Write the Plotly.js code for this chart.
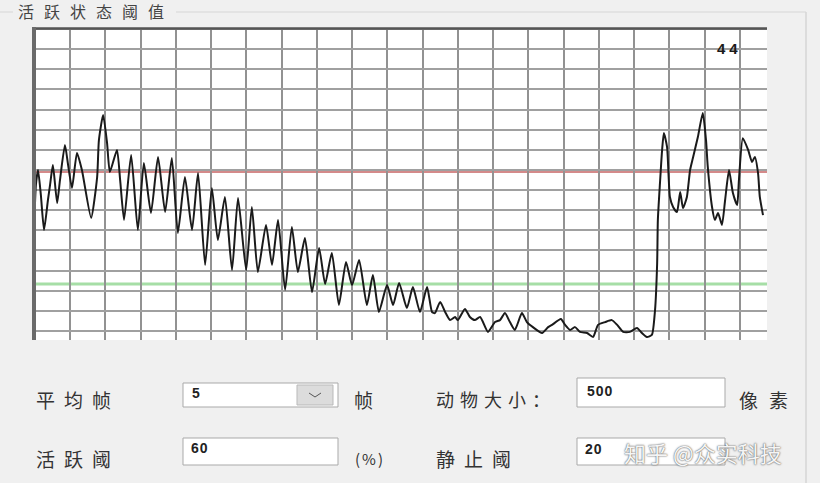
<!DOCTYPE html>
<html>
<head>
<meta charset="utf-8">
<script src="https://cdn.plot.ly/plotly-3.0.1.min.js"></script>
<style>
html,body{margin:0;padding:0;background:#f0f0f0;}
#chart{width:820px;height:483px;}
</style>
</head>
<body>
<div id="chart"></div>
<script>
// Frame index of each sample
const frames = [
  0.6,1.1,1.7,2.5,3.4,4.5,5.1,5.9,7.1,7.9,
  9.3,10.2,11.3,12.7,14.1,16.7,18.4,18.9,20.1,21.2,
  22.0,24.0,24.9,26.0,28.0,29.9,31.6,33.6,35.6,37.6,
  39.5,41.2,43.2,45.2,46.9,48.9,50.8,52.5,54.5,56.5,
  58.2,60.5,62.1,63.8,66.1,67.8,69.5,71.5,73.4,75.1,
  77.1,79.1,81.1,82.8,84.7,86.7,88.7,90.4,92.4,94.6,
  96.3,98.0,100.3,102.0,103.7,105.9,107.6,109.6,111.6,113.0,
  113.8,115.3,116.7,118.1,119.5,120.3,122.3,123.7,125.1,126.6,
  128.8,130.8,132.2,133.6,135.0,136.4,138.4,139.8,141.5,144.1,
  145.8,146.9,149.4,150.6,152.0,153.4,154.8,156.8,158.5,159.9,
  161.9,163.8,165.3,167.0,168.9,170.9,172.3,173.7,175.1,176.0,
  176.6,176.8,177.4,178.0,178.5,179.4,180.2,181.1,182.2,183.1,
  183.9,185.0,185.9,186.7,188.1,189.5,190.4,190.9,192.1,192.9,
  193.8,194.9,195.8,196.9,198.0,199.2,199.7,200.8,202.3,203.4,
  204.2,205.1,205.6,206.5
];
// Activity level (%) of each sample
const activity = [
  40.0,55.4,60.7,51.8,39.3,50.0,55.4,62.5,48.9,57.1,
  69.6,62.5,54.3,66.8,60.7,43.6,58.2,71.4,80.4,70.4,
  60.0,67.9,57.1,42.9,66.1,39.3,63.2,45.4,65.4,45.7,
  65.0,38.2,58.2,39.3,59.6,26.8,54.3,35.7,51.1,25.0,
  50.7,25.0,47.5,24.3,41.1,26.8,42.9,17.9,40.4,24.3,
  36.4,17.1,32.9,20.0,31.1,12.5,27.9,19.6,28.6,12.5,
  23.2,10.0,19.6,12.5,20.4,11.4,18.9,10.0,18.9,10.0,
  9.6,13.6,10.0,7.1,8.2,7.1,11.1,8.2,7.1,8.2,
  2.9,6.4,7.1,9.6,6.4,3.6,9.6,6.4,4.6,2.5,
  4.6,5.4,7.5,5.4,3.6,4.6,2.9,2.5,1.1,5.4,
  6.4,7.1,5.4,2.9,2.9,4.3,2.5,1.1,1.8,10.7,
  27.5,42.9,56.1,67.9,73.9,68.9,51.1,47.5,45.7,52.9,
  47.1,51.1,60.7,65.0,72.5,81.1,71.4,61.8,47.5,42.9,
  45.4,41.1,50.0,60.7,52.5,48.2,57.1,72.1,67.9,63.6,
  65.4,59.6,51.1,44.6
];
const activeThreshold = 60;   // 活跃阈 (%)
const stillThreshold = 20;    // 静止阈 (%)
const currentValue = "44";
const groupTitle = "活跃状态阈值";
const formLabels = ["平均帧", "帧", "动物大小：", "像素", "活跃阈", "(%)", "静止阈"];
const formValues = ["5", "500", "60", "20"];
const watermark = "知乎 @众实科技";

// pixel -> paper helpers (plot area: x 33..767, y 28..340)
const L = 33, R = 767, T = 28, B = 340;
const px = x => (x - L) / (R - L);
const py = y => (B - y) / (B - T);

const cjk = '"Noto Sans CJK SC", "Noto Sans", sans-serif';
const num = 'Liberation Sans, Arial, sans-serif';

function lbl(text, x, y, size, color, spacing, extra) {
  const t = spacing ? '<span style="letter-spacing:' + spacing + 'px">' + text + '</span>' : text;
  return Object.assign({
    text: t, xref: 'paper', yref: 'paper', x: px(x), y: py(y),
    xanchor: 'left', yanchor: 'middle', showarrow: false,
    font: {family: cjk, size: size, color: color || '#333'}
  }, extra || {});
}

function rectPx(x0, y0, x1, y1, fill, line) {
  return {type: 'rect', xref: 'paper', yref: 'paper', layer: 'above',
    x0: px(x0), x1: px(x1), y0: py(y1), y1: py(y0),
    fillcolor: fill, line: {color: line, width: 1}};
}
function linePx(x0, y0, x1, y1, color, width) {
  return {type: 'line', xref: 'paper', yref: 'paper', layer: 'above',
    x0: px(x0), x1: px(x1), y0: py(y0), y1: py(y1),
    line: {color: color, width: width}};
}

const trace = {
  x: frames, y: activity, type: 'scatter', mode: 'lines',
  line: {color: '#1a1a1a', width: 2, shape: 'spline', smoothing: 0.55},
  hoverinfo: 'skip', showlegend: false
};

const shapes = [
  // threshold lines
  {type: 'line', xref: 'paper', yref: 'y', x0: 0, x1: 1, y0: activeThreshold, y1: activeThreshold,
   layer: 'between', line: {color: '#d48a8a', width: 2}},
  {type: 'line', xref: 'paper', yref: 'y', x0: 0, x1: 1, y0: stillThreshold, y1: stillThreshold,
   layer: 'between', line: {color: '#a6dea6', width: 3}},
  // plot borders
  linePx(33, 28.5, 767, 28.5, '#555', 2.5),
  linePx(34, 27, 34, 340, '#6a6a6a', 4),
  // group box
  linePx(0, 12, 13, 12, '#d6d6d6', 1),
  linePx(176, 12, 806, 12, '#d6d6d6', 1),
  linePx(806, 12, 806, 483, '#d6d6d6', 1.5),
  // combo box
  rectPx(183, 383, 338, 407, '#ffffff', '#a9a9a9'),
  rectPx(297, 385, 333, 405, '#dcdcdc', '#b9b9b9'),
  {type: 'path', xref: 'paper', yref: 'paper', layer: 'above',
   path: 'M ' + px(309) + ',' + py(393) + ' L ' + px(315) + ',' + py(397) + ' L ' + px(321) + ',' + py(393),
   line: {color: '#555', width: 1}},
  // text boxes
  rectPx(183, 438, 338, 465, '#ffffff', '#a9a9a9'),
  rectPx(577, 378, 725, 407, '#ffffff', '#a9a9a9'),
  rectPx(577, 438, 725, 465, '#ffffff', '#a9a9a9')
];

const annotations = [
  lbl(groupTitle, 16, 11, 16, '#444', 10),
  lbl(currentValue, 715, 48, 15, '#1a1a1a', 4, {font: {family: num, size: 15, color: '#1a1a1a', weight: 700}}),
  lbl(formLabels[0], 34, 399, 19, '#333', 9),
  lbl(formLabels[1], 352, 399, 19, '#333', 0),
  lbl(formLabels[2], 434, 399, 18, '#333', 6),
  lbl(formLabels[3], 737, 399, 19, '#333', 11),
  lbl(formLabels[4], 34, 458, 19, '#333', 9),
  lbl(formLabels[5], 353, 458, 15, '#333', 2),
  lbl(formLabels[6], 434, 458, 19, '#333', 9),
  lbl(formValues[0], 190, 393, 14, '#222', 1, {font: {family: num, size: 14, color: '#222', weight: 700}}),
  lbl(formValues[1], 585, 391, 14, '#222', 1, {font: {family: num, size: 14, color: '#222', weight: 700}}),
  lbl(formValues[2], 189, 448, 14, '#222', 1, {font: {family: num, size: 14, color: '#222', weight: 700}}),
  lbl(formValues[3], 583, 449, 14, '#222', 1, {font: {family: num, size: 14, color: '#222', weight: 700}}),
  lbl(watermark, 622, 452, 22, '#ffffff', 0, {font: {family: cjk, size: 22, color: 'rgba(255,255,255,0.95)', shadow: '0px 0px 2px #555, 0px 0px 1px #777'}})
];

const layout = {
  width: 820, height: 483,
  margin: {l: L, r: 820 - R, t: T, b: 483 - B, pad: 0},
  paper_bgcolor: '#f0f0f0', plot_bgcolor: '#ffffff',
  xaxis: {range: [0.28, 207.63], showticklabels: false, ticks: '', zeroline: false, showline: false,
          showgrid: true, gridcolor: '#929292', gridwidth: 2, tick0: 10.73, dtick: 9.96, fixedrange: true},
  yaxis: {range: [0, 111.43], showticklabels: false, ticks: '', zeroline: false, showline: false,
          showgrid: true, gridcolor: '#a0a0a0', gridwidth: 2, tick0: 3.21, dtick: 7.19, fixedrange: true},
  shapes: shapes,
  annotations: annotations,
  showlegend: false
};

Plotly.newPlot('chart', [trace], layout, {displayModeBar: false, staticPlot: true});
</script>
</body>
</html>
